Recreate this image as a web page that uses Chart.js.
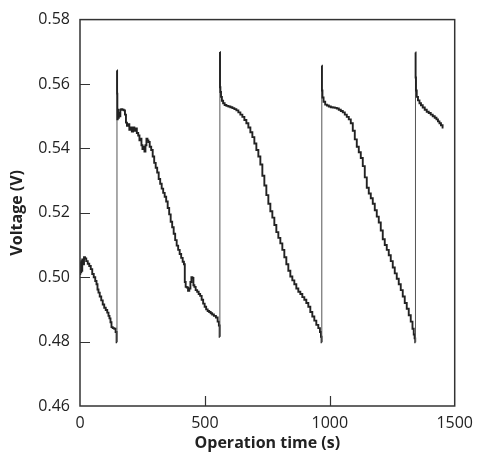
<!DOCTYPE html>
<html>
<head>
<meta charset="utf-8">
<script src="https://cdn.jsdelivr.net/npm/chart.js@4.4.0/dist/chart.umd.min.js"></script>
<style>
  html, body { margin: 0; padding: 0; background: #fff; }
  #wrap { width: 481px; height: 457px; }
</style>
</head>
<body>
<div id="wrap"><canvas id="voltageChart" width="481" height="457"></canvas></div>
<script>
// operation time (s) and cell voltage (V)
const timeS = [
  0, 2, 4, 6, 8, 10, 14, 18, 22, 28, 34, 40, 46, 52, 58, 64, 68, 72, 76, 82,
  88, 94, 100, 106, 112, 116, 120, 124, 128, 134, 140, 145, 148,
  148, 149, 150, 152, 154, 157, 160, 163, 167, 172, 178, 182, 186, 190, 195,
  200, 205, 210, 215, 220, 225, 230, 236, 240, 244, 248, 252, 256, 260, 264,
  268, 272, 276, 282, 288, 294, 300, 306, 312, 318, 324, 330, 336, 342, 348,
  354, 360, 366, 372, 378, 384, 390, 396, 402, 408, 414, 418, 421, 425, 430,
  435, 440, 444, 448, 452, 456, 460, 466, 472, 478, 484, 490, 496, 502, 508,
  514, 520, 526, 532, 540, 548, 554, 558, 560,
  560, 561, 563, 566, 570, 576, 582, 590, 598, 606, 614, 622, 630, 638, 646,
  654, 662, 670, 678, 686, 694, 702, 710, 718, 726, 734, 742, 750, 758, 766,
  774, 782, 790, 798, 806, 814, 822, 830, 838, 846, 854, 862, 870, 878, 886,
  894, 902, 910, 918, 926, 934, 942, 950, 958, 963, 966, 968,
  968, 969, 972, 978, 985, 992, 1000, 1008, 1016, 1024, 1032, 1040, 1048, 1056,
  1064, 1072, 1080, 1088, 1096, 1104, 1112, 1120, 1128, 1136, 1144, 1152, 1160,
  1168, 1176, 1184, 1192, 1200, 1208, 1216, 1224, 1232, 1240, 1248, 1256, 1264,
  1272, 1280, 1288, 1296, 1304, 1312, 1320, 1328, 1334, 1338, 1341, 1343,
  1343, 1344, 1346, 1350, 1356, 1362, 1368, 1376, 1384, 1392, 1400, 1408, 1416,
  1424, 1430, 1436, 1442, 1448, 1455
];
const voltageV = [
  0.5010, 0.5045, 0.5015, 0.5050, 0.5020, 0.5055, 0.5040, 0.5062, 0.5058, 0.5050,
  0.5042, 0.5035, 0.5025, 0.5010, 0.5000, 0.4988, 0.4978, 0.4962, 0.4952, 0.4940,
  0.4928, 0.4915, 0.4905, 0.4898, 0.4890, 0.4880, 0.4872, 0.4860, 0.4845, 0.4842,
  0.4840, 0.4830, 0.4798,
  0.5642, 0.5570, 0.5490, 0.5520, 0.5495, 0.5510, 0.5500, 0.5520, 0.5522, 0.5520,
  0.5518, 0.5505, 0.5480, 0.5470, 0.5475, 0.5458, 0.5465, 0.5452, 0.5465, 0.5455,
  0.5462, 0.5448, 0.5440, 0.5425, 0.5430, 0.5410, 0.5398, 0.5405, 0.5390, 0.5410,
  0.5430, 0.5425, 0.5420, 0.5405, 0.5395, 0.5375, 0.5355, 0.5340, 0.5325, 0.5305,
  0.5290, 0.5275, 0.5262, 0.5250, 0.5235, 0.5215, 0.5195, 0.5172, 0.5155, 0.5135,
  0.5115, 0.5098, 0.5085, 0.5072, 0.5060, 0.5048, 0.5040, 0.4985, 0.4970, 0.4968,
  0.4958, 0.4965, 0.4985, 0.5000, 0.4998, 0.4975, 0.4970, 0.4960, 0.4955, 0.4948,
  0.4942, 0.4930, 0.4918, 0.4908, 0.4900, 0.4895, 0.4892, 0.4888, 0.4884, 0.4880,
  0.4875, 0.4862, 0.4850, 0.4815,
  0.5699, 0.5590, 0.5575, 0.5560, 0.5548, 0.5540, 0.5535, 0.5532, 0.5530, 0.5528,
  0.5525, 0.5522, 0.5518, 0.5512, 0.5505, 0.5498, 0.5488, 0.5478, 0.5465, 0.5450,
  0.5435, 0.5415, 0.5395, 0.5375, 0.5350, 0.5315, 0.5285, 0.5255, 0.5228, 0.5205,
  0.5185, 0.5162, 0.5140, 0.5122, 0.5105, 0.5085, 0.5062, 0.5040, 0.5020, 0.5002,
  0.4990, 0.4978, 0.4965, 0.4955, 0.4948, 0.4938, 0.4930, 0.4920, 0.4908, 0.4892,
  0.4878, 0.4865, 0.4852, 0.4842, 0.4830, 0.4815, 0.4798,
  0.5657, 0.5580, 0.5558, 0.5545, 0.5536, 0.5533, 0.5530, 0.5528, 0.5527, 0.5526,
  0.5524, 0.5520, 0.5516, 0.5512, 0.5505, 0.5498, 0.5490, 0.5478, 0.5455, 0.5428,
  0.5405, 0.5388, 0.5370, 0.5345, 0.5310, 0.5278, 0.5260, 0.5245, 0.5228, 0.5208,
  0.5188, 0.5170, 0.5145, 0.5118, 0.5100, 0.5085, 0.5068, 0.5050, 0.5030, 0.5012,
  0.4995, 0.4978, 0.4960, 0.4940, 0.4920, 0.4902, 0.4882, 0.4862, 0.4840, 0.4822,
  0.4810, 0.4798,
  0.5698, 0.5620, 0.5580, 0.5560, 0.5549, 0.5540, 0.5534, 0.5527, 0.5520, 0.5514,
  0.5510, 0.5505, 0.5500, 0.5495, 0.5490, 0.5484, 0.5478, 0.5472, 0.5465
];
const xTicks = [0, 500, 1000, 1500];
const yTicks = [0.46, 0.48, 0.50, 0.52, 0.54, 0.56, 0.58];

const ink = "#222";
const fontFamily = "'Open Sans', 'DejaVu Sans', sans-serif";

// full frame + inward ticks
const framePlugin = {
  id: "frame",
  afterDraw(chart) {
    const { ctx, chartArea: a, scales } = chart;
    ctx.save();
    ctx.strokeStyle = "#333";
    ctx.lineWidth = 1.5;
    ctx.strokeRect(a.left, a.top, a.right - a.left, a.bottom - a.top);
    ctx.lineWidth = 1.2;
    ctx.beginPath();
    yTicks.slice(1, -1).forEach((v) => {
      const y = Math.round(scales.y.getPixelForValue(v)) + 0.5;
      ctx.moveTo(a.left, y);
      ctx.lineTo(a.left + 10, y);
    });
    xTicks.slice(1, -1).forEach((v) => {
      const x = Math.round(scales.x.getPixelForValue(v)) + 0.5;
      ctx.moveTo(x, a.bottom);
      ctx.lineTo(x, a.bottom - 10);
    });
    ctx.stroke();
    ctx.restore();
  },
};

const points = timeS.map((t, i) => ({ x: t, y: voltageV[i] }));

new Chart(document.getElementById("voltageChart"), {
  type: "scatter",
  data: {
    datasets: [
      {
        data: points,
        showLine: true,
        stepped: "middle",
        borderColor: ink,
        borderWidth: 1.9,
        pointRadius: 0,
        segment: {
          // the recharge jumps are drawn as thin grey verticals
          borderWidth: (c) =>
            c.p0.parsed.x === c.p1.parsed.x && c.p1.parsed.y > c.p0.parsed.y ? 1 : undefined,
          borderColor: (c) =>
            c.p0.parsed.x === c.p1.parsed.x && c.p1.parsed.y > c.p0.parsed.y ? "#555" : undefined,
        },
      },
    ],
  },
  options: {
    responsive: false,
    animation: false,
    layout: { padding: { top: 19, right: 23, left: 0, bottom: 0 } },
    plugins: { legend: { display: false }, tooltip: { enabled: false } },
    scales: {
      x: {
        type: "linear",
        min: 0,
        max: 1500,
        afterBuildTicks: (s) => { s.ticks = xTicks.map((v) => ({ value: v })); },
        afterFit: (s) => { s.height = 51; },
        grid: { display: false, drawTicks: false },
        border: { display: false },
        ticks: {
          color: ink,
          padding: 8,
          maxRotation: 0,
          font: { family: fontFamily, size: 16 },
          callback: (v) => String(v),
        },
        title: {
          display: true,
          text: "Operation time (s)",
          color: ink,
          padding: { top: 0, bottom: 4 },
          font: { family: fontFamily, size: 16, weight: "bold" },
        },
      },
      y: {
        min: 0.46,
        max: 0.58,
        afterBuildTicks: (s) => { s.ticks = yTicks.map((v) => ({ value: v })); },
        afterFit: (s) => { s.width = 80; },
        grid: { display: false, drawTicks: false },
        border: { display: false },
        ticks: {
          color: ink,
          padding: 10,
          font: { family: fontFamily, size: 16 },
          callback: (v) => Number(v).toFixed(2),
        },
        title: {
          display: true,
          text: "Voltage (V)",
          color: ink,
          padding: { top: 8, bottom: 0 },
          font: { family: fontFamily, size: 16, weight: "bold" },
        },
      },
    },
  },
  plugins: [framePlugin],
});
</script>
</body>
</html>
